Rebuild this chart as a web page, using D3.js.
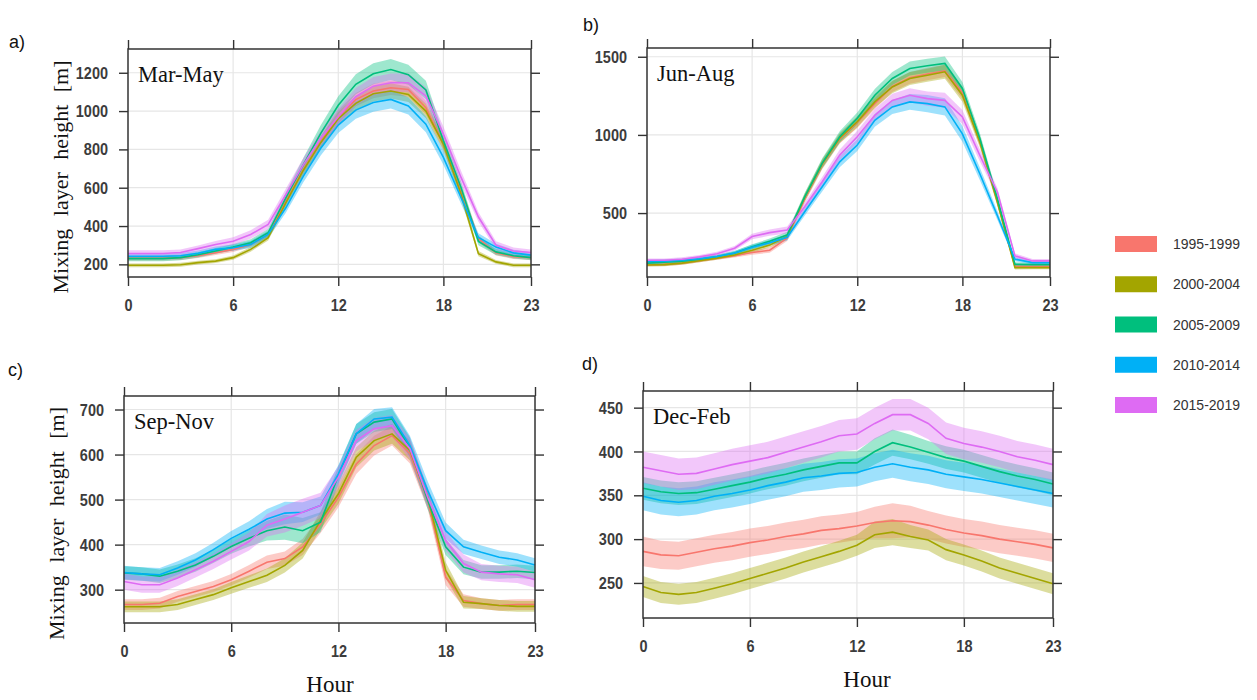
<!DOCTYPE html>
<html>
<head>
<meta charset="utf-8">
<script src="https://cdn.jsdelivr.net/npm/d3@7"></script>
<style>
  body { margin: 0; background: #fff; }
  svg { display: block; }
</style>
</head>
<body>
<svg id="chart" width="1257" height="700"></svg>
<script>
const hours = [0, 1, 2, 3, 4, 5, 6, 7, 8, 9, 10, 11, 12, 13, 14, 15, 16, 17, 18, 19, 20, 21, 22, 23];
const xTicks = [0, 6, 12, 18, 23];
const periods = ['1995-1999', '2000-2004', '2005-2009', '2010-2014', '2015-2019'];
const periodColors = ['#F8766D', '#A3A500', '#00BF7D', '#00B0F6', '#DE6BF3'];

// a) Mar-May, mean mixing layer height [m] per hour
const marMay1995 = [232, 232, 232, 235, 245, 261, 278, 304, 356, 529, 693, 840, 970, 1060, 1105, 1122, 1113, 1018, 828, 585, 334, 260, 240, 235];
const marMay2000 = [195, 195, 195, 198, 209, 217, 235, 278, 339, 520, 690, 835, 960, 1040, 1090, 1105, 1087, 1000, 828, 568, 256, 213, 195, 195];
const marMay2005 = [230, 230, 230, 235, 250, 270, 290, 313, 365, 546, 719, 884, 1030, 1140, 1195, 1217, 1190, 1110, 845, 603, 320, 265, 245, 235];
const marMay2010 = [242, 242, 242, 245, 258, 278, 287, 304, 356, 494, 659, 806, 927, 1005, 1045, 1061, 1027, 932, 758, 550, 340, 290, 260, 248];
const marMay2015 = [257, 257, 257, 262, 282, 304, 321, 356, 408, 563, 719, 858, 970, 1075, 1130, 1148, 1148, 1079, 880, 655, 447, 300, 270, 262];
// half width of the shaded band
const marMay1995Sd = [12, 12, 12, 12, 12, 12, 13, 14, 16, 20, 25, 30, 35, 35, 38, 38, 38, 36, 32, 28, 18, 14, 12, 12];
const marMay2000Sd = [10, 10, 10, 10, 10, 10, 11, 12, 14, 20, 25, 30, 35, 38, 40, 40, 40, 38, 32, 26, 14, 10, 10, 10];
const marMay2005Sd = [14, 14, 14, 14, 14, 15, 16, 18, 20, 28, 35, 42, 48, 52, 55, 55, 52, 48, 40, 32, 20, 16, 14, 14];
const marMay2010Sd = [14, 14, 14, 14, 14, 15, 16, 18, 20, 26, 32, 38, 42, 45, 48, 48, 45, 42, 38, 32, 22, 18, 16, 15];
const marMay2015Sd = [16, 16, 16, 16, 16, 18, 20, 22, 25, 30, 35, 38, 42, 45, 48, 48, 48, 45, 40, 35, 25, 20, 18, 16];

// b) Jun-Aug
const junAug1995 = [170, 172, 180, 195, 212, 228, 248, 262, 340, 590, 810, 975, 1080, 1200, 1310, 1365, 1390, 1410, 1270, 960, 575, 160, 160, 160];
const junAug2000 = [168, 170, 180, 195, 212, 232, 262, 295, 350, 600, 815, 980, 1084, 1211, 1307, 1361, 1382, 1404, 1254, 954, 569, 151, 151, 151];
const junAug2005 = [180, 185, 192, 205, 222, 245, 285, 320, 360, 604, 820, 988, 1106, 1254, 1361, 1425, 1442, 1457, 1297, 975, 590, 172, 170, 170];
const junAug2010 = [190, 192, 198, 208, 222, 245, 282, 310, 345, 508, 668, 828, 935, 1093, 1179, 1211, 1200, 1179, 1007, 750, 483, 205, 183, 183];
const junAug2015 = [198, 198, 205, 220, 240, 275, 350, 375, 392, 540, 700, 871, 988, 1125, 1221, 1254, 1232, 1221, 1115, 868, 633, 226, 194, 194];
const junAug1995Sd = [10, 10, 10, 10, 10, 12, 14, 16, 18, 25, 30, 30, 35, 35, 35, 38, 40, 40, 38, 32, 25, 12, 10, 10];
const junAug2000Sd = [10, 10, 10, 10, 10, 12, 14, 16, 18, 25, 30, 32, 35, 38, 40, 42, 42, 45, 42, 35, 25, 12, 10, 10];
const junAug2005Sd = [12, 12, 12, 12, 12, 13, 15, 17, 20, 25, 30, 35, 38, 40, 42, 45, 45, 45, 42, 35, 25, 14, 12, 12];
const junAug2010Sd = [12, 12, 12, 12, 12, 13, 15, 17, 20, 25, 30, 35, 38, 40, 45, 50, 55, 55, 50, 40, 28, 14, 12, 12];
const junAug2015Sd = [12, 12, 12, 12, 12, 14, 18, 20, 22, 26, 30, 35, 38, 40, 42, 45, 45, 48, 45, 38, 28, 16, 12, 12];

// c) Sep-Nov
const sepNov1995 = [267, 267, 270, 285, 296, 307, 322, 341, 361, 369, 395, 446, 505, 579, 620, 642, 602, 498, 328, 276, 269, 265, 267, 267];
const sepNov2000 = [262, 262, 262, 267, 278, 289, 304, 318, 332, 354, 387, 454, 513, 594, 631, 646, 609, 505, 343, 272, 269, 265, 263, 263];
const sepNov2005 = [337, 335, 330, 341, 355, 374, 396, 414, 431, 439, 431, 450, 554, 646, 672, 679, 616, 498, 395, 350, 339, 339, 341, 338];
const sepNov2010 = [338, 335, 333, 348, 366, 389, 414, 434, 457, 470, 472, 487, 557, 646, 679, 683, 620, 520, 431, 395, 383, 372, 366, 355];
const sepNov2015 = [318, 311, 311, 326, 344, 363, 385, 407, 443, 457, 472, 487, 550, 631, 657, 664, 613, 505, 409, 358, 339, 335, 333, 322];
const sepNov1995Sd = [12, 12, 12, 12, 12, 12, 13, 14, 15, 16, 18, 20, 22, 22, 22, 22, 22, 20, 18, 14, 12, 12, 12, 12];
const sepNov2000Sd = [12, 12, 12, 12, 12, 12, 13, 14, 15, 16, 18, 20, 22, 22, 22, 22, 22, 20, 18, 14, 12, 12, 12, 12];
const sepNov2005Sd = [15, 15, 15, 15, 15, 15, 16, 18, 22, 28, 28, 22, 20, 22, 22, 22, 22, 20, 18, 16, 15, 15, 15, 15];
const sepNov2010Sd = [15, 15, 15, 15, 15, 15, 16, 18, 22, 25, 22, 20, 20, 22, 22, 22, 22, 20, 18, 16, 15, 15, 15, 15];
const sepNov2015Sd = [18, 18, 18, 18, 17, 17, 18, 20, 25, 30, 30, 28, 24, 24, 24, 24, 24, 22, 22, 20, 18, 18, 18, 18];

// d) Dec-Feb
const decFeb1995 = [286, 282, 281, 285, 289, 292, 296, 299, 303, 306, 310, 312, 315, 319, 321, 320, 316, 311, 307, 304, 300, 297, 294, 290];
const decFeb2000 = [246, 239, 237, 239, 244, 249, 255, 261, 267, 274, 280, 286, 293, 305, 308, 303, 299, 288, 282, 275, 267, 261, 255, 249];
const decFeb2005 = [358, 354, 352, 353, 357, 361, 365, 370, 374, 379, 383, 387, 387, 400, 410, 405, 399, 393, 389, 383, 377, 372, 368, 363];
const decFeb2010 = [349, 344, 342, 344, 349, 352, 356, 361, 365, 370, 372, 375, 376, 382, 386, 382, 379, 374, 371, 368, 364, 360, 356, 352];
const decFeb2015 = [382, 378, 374, 375, 380, 385, 389, 393, 399, 405, 411, 418, 420, 432, 442, 442, 432, 415, 409, 405, 400, 394, 390, 385];
const decFeb1995Sd = [17, 16, 16, 16, 16, 16, 16, 16, 16, 16, 16, 16, 16, 18, 20, 18, 16, 16, 16, 16, 16, 16, 16, 16];
const decFeb2000Sd = [12, 12, 12, 12, 12, 12, 12, 12, 12, 12, 12, 12, 12, 15, 15, 13, 12, 12, 12, 12, 12, 12, 12, 12];
const decFeb2005Sd = [13, 13, 13, 13, 13, 13, 13, 13, 13, 13, 13, 13, 13, 15, 15, 14, 13, 13, 13, 13, 13, 13, 13, 13];
const decFeb2010Sd = [16, 16, 16, 16, 16, 16, 16, 16, 16, 16, 16, 16, 16, 16, 16, 16, 16, 16, 16, 16, 16, 16, 16, 16];
const decFeb2015Sd = [18, 18, 18, 18, 18, 18, 18, 18, 18, 18, 18, 18, 18, 18, 18, 18, 18, 18, 18, 18, 18, 18, 18, 18];

const marMayTicks = [200, 400, 600, 800, 1000, 1200];
const junAugTicks = [500, 1000, 1500];
const sepNovTicks = [300, 400, 500, 600, 700];
const decFebTicks = [250, 300, 350, 400, 450];

class SeasonPanel {
    constructor(_config, _data) {
        this.config = {
            parent: _config.parent,
            tag: _config.tag,
            name: _config.name,
            box: _config.box,
            yDomain: _config.yDomain,
            yTicks: _config.yTicks,
            yLabel: _config.yLabel || false,
            xLabelX: _config.xLabelX || null
        };
        this.data = _data;
        this.initVis();
    }

    initVis() {
        let vis = this;
        const b = vis.config.box;

        vis.xScale = d3.scaleLinear().domain([0, 23]).range([b.left, b.right]);
        vis.yScale = d3.scaleLinear().domain(vis.config.yDomain).range([b.bottom, b.top]);

        vis.g = vis.config.parent.append('g');

        // light grid
        vis.g.append('g').selectAll('line')
            .data(xTicks.slice(1, -1))
            .join('line')
            .attr('x1', d => vis.xScale(d)).attr('x2', d => vis.xScale(d))
            .attr('y1', b.top).attr('y2', b.bottom)
            .attr('stroke', '#e6e6e6').attr('stroke-width', 1.2);
        vis.g.append('g').selectAll('line')
            .data(vis.config.yTicks)
            .join('line')
            .attr('x1', b.left).attr('x2', b.right)
            .attr('y1', d => vis.yScale(d)).attr('y2', d => vis.yScale(d))
            .attr('stroke', '#e6e6e6').attr('stroke-width', 1.2);

        vis.plot = vis.g.append('g');
    }

    renderVis() {
        let vis = this;
        const b = vis.config.box;

        const area = d3.area()
            .x((d, i) => vis.xScale(hours[i]))
            .y0(d => vis.yScale(d[0] - d[1]))
            .y1(d => vis.yScale(d[0] + d[1]));
        const line = d3.line()
            .x((d, i) => vis.xScale(hours[i]))
            .y(d => vis.yScale(d));

        vis.plot.selectAll('path.band')
            .data(vis.data)
            .join('path')
            .attr('class', 'band')
            .attr('d', s => area(s.mean.map((m, i) => [m, s.sd[i]])))
            .attr('fill', s => s.color)
            .attr('fill-opacity', 0.38);

        vis.plot.selectAll('path.mean')
            .data(vis.data)
            .join('path')
            .attr('class', 'mean')
            .attr('d', s => line(s.mean))
            .attr('fill', 'none')
            .attr('stroke', s => s.color)
            .attr('stroke-width', 1.6);

        // ticks on all four sides, labels a bit tall like the original
        const tickStyle = sel => {
            sel.select('.domain').remove();
            sel.selectAll('.tick line').attr('stroke', '#333').attr('stroke-width', 1.4);
            sel.selectAll('.tick text')
                .attr('fill', '#3c3c3c')
                .attr('transform', 'scale(1,1.2)')
                .style('font-family', '"Liberation Sans", Arial, sans-serif')
                .style('font-weight', 'bold')
                .style('font-size', '14.5px');
        };
        const fmt = d3.format('d');

        vis.g.append('g')
            .attr('transform', `translate(${b.left},0)`)
            .call(d3.axisLeft(vis.yScale).tickValues(vis.config.yTicks).tickFormat(fmt).tickSize(9).tickPadding(11))
            .call(tickStyle);
        vis.g.append('g')
            .attr('transform', `translate(${b.right},0)`)
            .call(d3.axisRight(vis.yScale).tickValues(vis.config.yTicks).tickSize(9).tickFormat(''))
            .call(tickStyle);
        vis.g.append('g')
            .attr('transform', `translate(0,${b.bottom})`)
            .call(d3.axisBottom(vis.xScale).tickValues(xTicks).tickFormat(fmt).tickSize(9).tickPadding(9))
            .call(tickStyle);
        vis.g.append('g')
            .attr('transform', `translate(0,${b.top})`)
            .call(d3.axisTop(vis.xScale).tickValues(xTicks).tickSize(9).tickFormat(''))
            .call(tickStyle);

        vis.g.append('rect')
            .attr('x', b.left).attr('y', b.top)
            .attr('width', b.right - b.left).attr('height', b.bottom - b.top)
            .attr('fill', 'none').attr('stroke', '#333').attr('stroke-width', 1.5);

        vis.g.append('text')
            .attr('x', b.left + 10).attr('y', b.top + 33)
            .style('font-family', '"Liberation Serif", "Times New Roman", serif')
            .style('font-size', '22.5px')
            .attr('fill', '#111')
            .text(vis.config.name);

        vis.g.append('text')
            .attr('x', vis.config.tag.x).attr('y', vis.config.tag.y)
            .style('font-family', '"Liberation Sans", Arial, sans-serif')
            .style('font-size', '18px')
            .attr('fill', '#111')
            .text(vis.config.tag.text);

        if (vis.config.yLabel) {
            const cy = (b.top + b.bottom) / 2 + 14;
            vis.g.append('text')
                .attr('transform', `translate(${b.left - 60},${cy}) rotate(-90)`)
                .attr('text-anchor', 'middle')
                .style('font-family', '"Liberation Serif", "Times New Roman", serif')
                .style('font-size', '22px')
                .style('word-spacing', '7px')
                .attr('fill', '#111')
                .text('Mixing layer height [m]');
        }
        if (vis.config.xLabelX) {
            vis.g.append('text')
                .attr('x', vis.config.xLabelX)
                .attr('y', b.bottom + 69)
                .attr('text-anchor', 'middle')
                .style('font-family', '"Liberation Serif", "Times New Roman", serif')
                .style('font-size', '23px')
                .attr('fill', '#111')
                .text('Hour');
        }
    }
}

const svg = d3.select('#chart');

const makeSeries = (means, sds) => periods.map((p, i) => ({
    period: p, color: periodColors[i], mean: means[i], sd: sds[i]
}));

const panels = [
    {
        config: {
            tag: { text: 'a)', x: 9, y: 48 }, name: 'Mar-May',
            box: { left: 128, right: 531, top: 49, bottom: 277 },
            yDomain: [134, 1324], yTicks: marMayTicks, yLabel: true
        },
        data: makeSeries([marMay1995, marMay2000, marMay2005, marMay2010, marMay2015],
            [marMay1995Sd, marMay2000Sd, marMay2005Sd, marMay2010Sd, marMay2015Sd])
    },
    {
        config: {
            tag: { text: 'b)', x: 583, y: 31 }, name: 'Jun-Aug',
            box: { left: 647, right: 1050, top: 48, bottom: 277 },
            yDomain: [91, 1556], yTicks: junAugTicks
        },
        data: makeSeries([junAug1995, junAug2000, junAug2005, junAug2010, junAug2015],
            [junAug1995Sd, junAug2000Sd, junAug2005Sd, junAug2010Sd, junAug2015Sd])
    },
    {
        config: {
            tag: { text: 'c)', x: 8, y: 376 }, name: 'Sep-Nov',
            box: { left: 124, right: 535, top: 396, bottom: 623 },
            yDomain: [226, 730], yTicks: sepNovTicks, yLabel: true, xLabelX: 330
        },
        data: makeSeries([sepNov1995, sepNov2000, sepNov2005, sepNov2010, sepNov2015],
            [sepNov1995Sd, sepNov2000Sd, sepNov2005Sd, sepNov2010Sd, sepNov2015Sd])
    },
    {
        config: {
            tag: { text: 'd)', x: 582, y: 370 }, name: 'Dec-Feb',
            box: { left: 643, right: 1053, top: 391, bottom: 618 },
            yDomain: [210, 469], yTicks: decFebTicks, xLabelX: 867
        },
        data: makeSeries([decFeb1995, decFeb2000, decFeb2005, decFeb2010, decFeb2015],
            [decFeb1995Sd, decFeb2000Sd, decFeb2005Sd, decFeb2010Sd, decFeb2015Sd])
    }
];

panels.forEach(p => {
    const panel = new SeasonPanel(Object.assign({ parent: svg }, p.config), p.data);
    panel.renderVis();
});

// legend
const legendY = d3.scalePoint().domain(periods).range([244, 405]);
const legend = svg.append('g');
legend.selectAll('rect')
    .data(periods)
    .join('rect')
    .attr('x', 1115).attr('y', d => legendY(d) - 8)
    .attr('width', 42).attr('height', 16)
    .attr('fill', (d, i) => periodColors[i]);
legend.selectAll('text')
    .data(periods)
    .join('text')
    .attr('x', 1173).attr('y', d => legendY(d) + 5)
    .style('font-family', '"Liberation Sans", Arial, sans-serif')
    .style('font-size', '14px')
    .attr('fill', '#333')
    .text(d => d);
</script>
</body>
</html>
